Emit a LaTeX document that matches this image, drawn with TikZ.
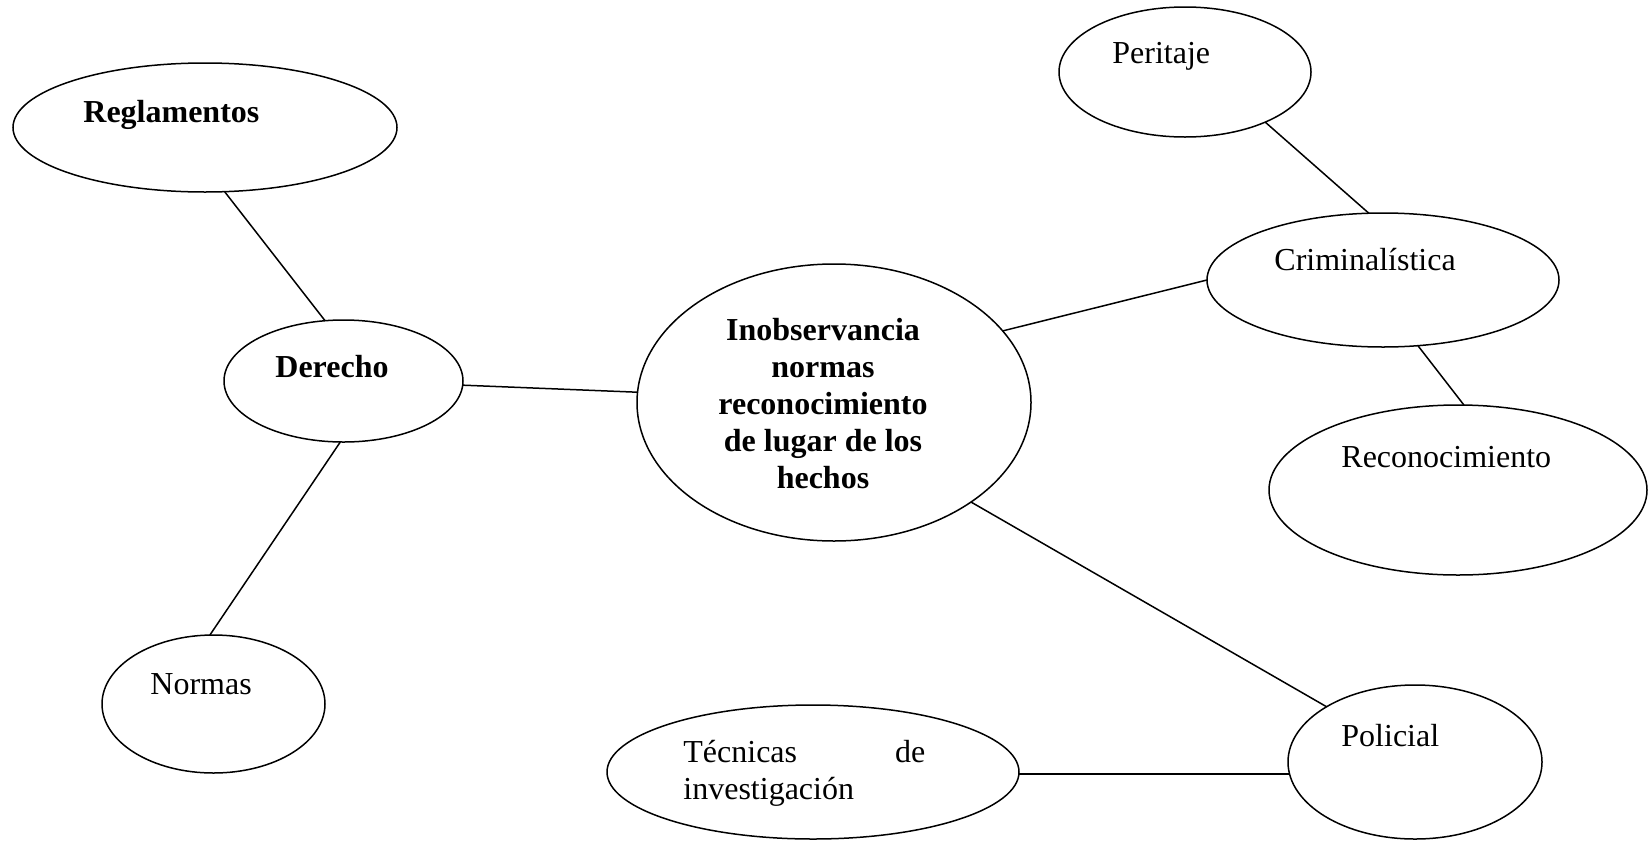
\documentclass[tikz,border=0pt]{standalone}
\usepackage{fontspec}
\setmainfont{Liberation Serif}
\usetikzlibrary{shapes.geometric,calc}
\begin{document}
\begin{tikzpicture}[x=0.5pt,y=0.5pt,
  ell/.style={draw, ellipse, inner sep=0pt, outer sep=0pt, line width=0.75pt},
  conn/.style={line width=0.75pt},
  lbl/.style={anchor=base west, inner sep=0pt, font=\fontsize{16}{18.5}\selectfont},
  blbl/.style={anchor=base west, inner sep=0pt, font=\fontsize{16}{18.5}\selectfont\bfseries},
  ctext/.style={anchor=base, inner sep=0pt, align=center, font=\fontsize{16}{18.5}\selectfont\bfseries}]
\useasboundingbox (0,0) rectangle (1648,-841);
% ellipses
\node[ell, minimum width=192pt, minimum height=64.5pt] (reg) at (205,-127.5) {};
\node[ell, minimum width=119.5pt, minimum height=61pt] (der) at (343.5,-381) {};
\node[ell, minimum width=111.5pt, minimum height=69pt] (nor) at (213.5,-704) {};
\node[ell, minimum width=197pt, minimum height=138.5pt] (cen) at (834,-402.5) {};
\node[ell, minimum width=126pt, minimum height=65pt] (per) at (1185,-72) {};
\node[ell, minimum width=176pt, minimum height=67pt] (cri) at (1383,-280) {};
\node[ell, minimum width=189pt, minimum height=85pt] (rec) at (1458,-490) {};
\node[ell, minimum width=127pt, minimum height=77pt] (pol) at (1415,-762) {};
\node[ell, minimum width=206pt, minimum height=67pt] (tec) at (813,-772) {};
% labels
\node[blbl] (regt) at (83,-122) {Reglamentos};
\node[blbl] (dert) at (275,-377) {Derecho};
\node[lbl] (nort) at (150,-694) {Normas};
\node[ctext] (cent) at (823,-488) {Inobservancia\\normas\\reconocimiento\\de lugar de los\\hechos};
\node[lbl] (pert) at (1112,-63) {Peritaje};
\node[lbl] (crit) at (1274,-270) {Criminalística};
\node[lbl] (rect) at (1341,-467) {Reconocimiento};
\node[lbl] (polt) at (1341,-746) {Policial};
\node[lbl, text width=121pt, align=left] (tect) at (683,-762) {Técnicas\hfill de\\investigación};
% connectors
\draw[conn] (reg.-73) -- (der.107);
\draw[conn] (der.-93) -- (nor.93);
\draw[conn] (der.-2) -- (cen.177);
\draw[conn] (cen.23) -- (cri.180);
\draw[conn] (per.-32) -- (cri.102);
\draw[conn] (cri.-62) -- (rec.86);
\draw[conn] (cen.-36) -- (pol.148);
\draw[conn] ($(tec.center)+(205.9,-2)$) -- ($(pol.center)+(-125.4,-12)$);
\end{tikzpicture}
\end{document}
